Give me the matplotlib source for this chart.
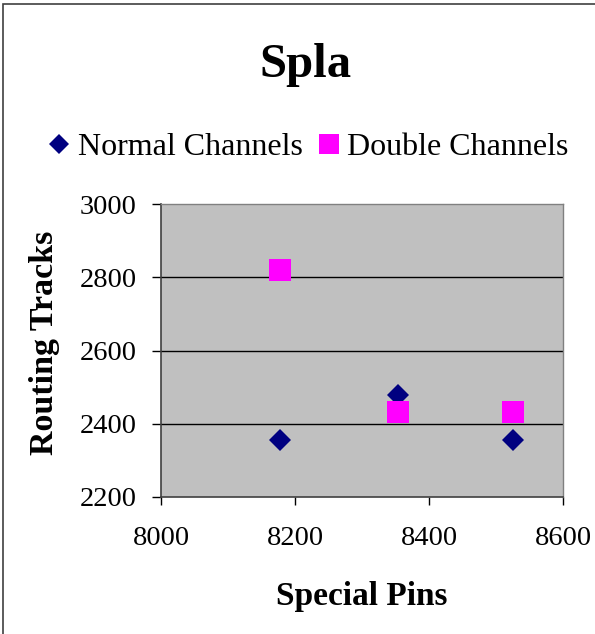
import matplotlib
matplotlib.use("Agg")
import matplotlib.pyplot as plt
from matplotlib.patches import Rectangle
from matplotlib.transforms import Bbox

# special pins vs routing tracks for the Spla circuit
normal_pins = [8178, 8353, 8525]
normal_tracks = [2355, 2479, 2355]
double_pins = [8178, 8353, 8525]
double_tracks = [2819, 2432, 2432]

x_ticks = [8000, 8200, 8400, 8600]
y_ticks = [2200, 2400, 2600, 2800, 3000]

plt.rcParams['font.family'] = ['Liberation Serif', 'DejaVu Serif']

W, H = 595, 634
fig = plt.figure(figsize=(W / 100, H / 100), dpi=100)
fig.patch.set_facecolor('white')

# outer chart border
fig.patches.append(Rectangle((3 / W, -0.05), 1.2, 1 - 4 / H + 0.05,
                             transform=fig.transFigure, fill=False,
                             edgecolor='#404040', linewidth=1.2))

left, right, top, bottom = 161, 563, 204, 497
ax = fig.add_axes([left / W, 1 - bottom / H, (right - left) / W, (bottom - top) / H])
ax.set_facecolor('#c0c0c0')

for yv in y_ticks[1:-1]:
    ax.axhline(yv, color='black', linewidth=1.0, zorder=1)

ax.plot(normal_pins, normal_tracks, linestyle='none', marker='D', ms=11.5,
        color='#000080', markeredgewidth=0, label='Normal Channels', zorder=3)
ax.plot(double_pins, double_tracks, linestyle='none', marker='s', ms=15.5,
        color='#ff00ff', markeredgewidth=0, label='Double Channels', zorder=3)

ax.set_xlim(8000, 8600)
ax.set_ylim(2200, 3000)
ax.set_xticks(x_ticks)
ax.set_yticks(y_ticks)
ax.tick_params(axis='x', direction='out', length=6, width=1, pad=15, labelsize=20.5)
ax.tick_params(axis='y', direction='out', length=6.3, width=1, pad=11, labelsize=20.5)

for side in ['top', 'right']:
    ax.spines[side].set_color('#808080')
    ax.spines[side].set_linewidth(1.0)
for side in ['left', 'bottom']:
    ax.spines[side].set_color('#404040')
    ax.spines[side].set_linewidth(1.2)

fig.text(305 / W, 1 - 65 / H, 'Spla', ha='center', va='center',
         fontsize=35, fontweight='bold')

fig.text(362 / W, 1 - 596 / H, 'Special Pins', ha='center', va='center',
         fontsize=24, fontweight='bold')

# y title is cut off where the chart area starts
ylab = fig.text(45 / W, 1 - 455 / H, 'Routing Tracks', ha='center', va='bottom',
                rotation=90, fontsize=24.5, fontweight='bold')
ylab.set_clip_box(fig.transFigure.transform_bbox(Bbox([[0, 0], [1, 1 - 232 / H]])))
ylab.set_clip_on(True)

leg = fig.legend(loc='center', bbox_to_anchor=(308 / W, 1 - 147 / H), ncol=2,
                 frameon=False, fontsize=23, handlelength=0.75,
                 handletextpad=0.2, columnspacing=0.45, markerscale=0.9)

fig.savefig('out.png', dpi=100)
